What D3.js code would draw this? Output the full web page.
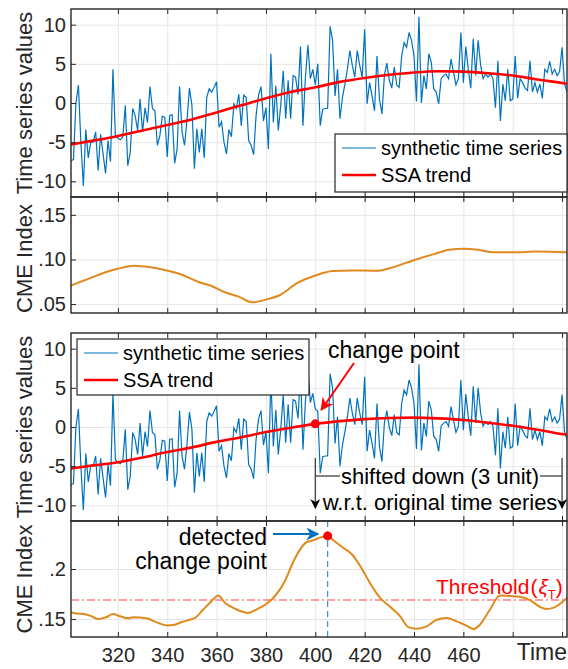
<!DOCTYPE html>
<html>
  <head>
    <meta charset="utf-8">
    <title>SSA trend and CME index</title>
    <script src="https://d3js.org/d3.v7.min.js"></script>
    <style>
      body { margin: 0; background: white; }
      svg { font-family: "Liberation Sans", Arial, Helvetica, sans-serif; }
      .grid line { stroke: #e6e6e6; stroke-width: 1; }
      .grid path, .ticks path, .labels path { display: none; }
      .ticks line { stroke: #262626; stroke-width: 1; }
      .labels text { font-size: 20px; fill: #262626; }
      .box { fill: none; stroke: #262626; stroke-width: 1.4; }
      .ts { fill: none; stroke: #0072BD; stroke-width: 1.2; }
      .trend { fill: none; stroke: #ff0000; stroke-width: 2.6; }
      .cme { fill: none; stroke: #e0891c; stroke-width: 2; }
    </style>
  </head>
  <body>
    <script>
      // synthetic time series, one value per time step from t0
      var t0 = 301;
      var tsValues = [
        -7.4, -7.2, 0, 2.3, -5, -10.6, -3.4, -7, -5, -5,
        -3.7, -8.6, -4, -6.5, -9, -4.8, -7.5, 4.3, -4.2, -4.5,
        -4.7, -4.3, -0.3, -8, -6.3, -0.7, -1.6, -3.5, 0.5, -3.7,
        -0.6, -2.5, 2.1, -0.7, -1, -5.4, -4.2, -1.7, -1.8, -6.9,
        -1.6, -1.5, -7.7, -5.9, 2.1, -3.7, -5.4, -2.2, 1.9, -0.3,
        -8.4, -3.3, -6.3, -3.3, -7, 0.7, 1.8, 1.4, 2, 2.7,
        -3.1, -2.4, -5, -6.5, -3.4, -4.3, -0.1, -0.7, 1.1, -2.9,
        1, 0.7, -4.8, -5.4, -6.6, -1.6, 1, 2.1, -2.3, -0.6,
        -5.9, 6.3, -2.5, 2.2, -3.5, -0.3, 4.1, -2, 2.9, -2,
        3.5, 3.3, 1.1, 7.2, -2.9, 3.3, 7.4, 3.1, 4.3, 2.3,
        5, -2.9, -0.8, -0.7, -0.7, 9.8, 8, 0.9, 4.3, -2,
        0.7, 2.4, 4.3, 6.7, 4.8, 3.3, 6.7, 4.8, 3.3, 9.4,
        -0.1, 2.6, 0.9, -1, 6, 0.5, -1.4, 3.5, 5.1, 2.9,
        1.9, 4.6, 2.3, 2, 6, 7.7, 7.1, 9, 8, 6,
        0.2, 11, 0, 3.5, 1.8, 6.3, 5.2, 1.8, 1.4, -0.1,
        3.1, 3.5, 3.7, 3.1, 5.6, 3.9, 2.3, 3.1, 9, 2.6,
        7.2, 4.3, 1.9, 8.2, 3.5, 8, 4.8, 3.1, 3.7, 3.3,
        3.7, 3.1, -0.6, 5.4, -2.3, 2.4, 0.3, 4.3, 0.3, 0.5,
        6, 0.6, 3.1, 2.6, 1.9, 1.6, 5.4, 1.4, 2.6, 1.4,
        2.4, 0.6, 4.3, 3.9, 5.3, 3.7, 4.3, 3.5, 4, 7.1,
        2.4, 1.4
      ];

      // SSA trends (original and shifted series)
      var trendT  = [301, 310, 320, 330, 340, 350, 360, 370, 380, 390, 400, 410, 420, 430, 440, 450, 460, 470, 480, 490, 500, 502];
      var trend1  = [-5.3, -4.8, -4.2, -3.5, -2.8, -2.1, -1.2, -0.3, 0.6, 1.4, 2.0, 2.7, 3.2, 3.6, 3.9, 4.05, 4.0, 3.8, 3.5, 3.0, 2.55, 2.45];
      var trend2  = [-5.3, -4.9, -4.5, -3.9, -3.2, -2.6, -1.9, -1.3, -0.65, -0.1, 0.4, 0.75, 1.0, 1.15, 1.2, 1.1, 0.9, 0.55, 0.15, -0.35, -0.9, -1.0];

      // CME index, original series
      var cme1T = [301, 309, 316, 320, 326.5, 331, 339.8, 345.7, 353, 357.4, 363.3, 369, 374.3, 381, 385.3, 392.6, 400, 407, 414.5, 425, 430.7, 439.6, 448.4, 454.2, 460, 466, 472, 480.7, 489.5, 502];
      var cme1V = [0.0708, 0.0794, 0.0865, 0.0895, 0.093, 0.092, 0.0877, 0.0832, 0.0745, 0.0708, 0.0633, 0.0584, 0.052, 0.0558, 0.0596, 0.0734, 0.082, 0.087, 0.0877, 0.0873, 0.0907, 0.0989, 0.1063, 0.1108, 0.112, 0.1108, 0.108, 0.108, 0.109, 0.108];

      // CME index, shifted series
      var cme2T = [301, 303.3, 306, 308.7, 312, 315.5, 318, 320.9, 324.2, 326.2, 329, 331.7, 335.7, 339.8, 342.5, 345.9, 349.2, 351.2, 354.6, 358, 360.7, 363.4, 366.8, 369.5, 372.8, 376.2, 380.3, 383.7, 387.7, 391, 393.6, 396.5, 399.2, 401.9, 405, 407.3, 411.4, 414.7, 418.1, 422.2, 426.2, 430.3, 434.4, 437.7, 441.1, 445.1, 449.2, 453.2, 457.3, 461.4, 464, 466.7, 470.8, 474.8, 478.9, 482.9, 487, 491, 493.8, 496.4, 502];
      var cme2V = [0.1568, 0.1554, 0.155, 0.1534, 0.150, 0.152, 0.155, 0.1527, 0.1507, 0.1517, 0.1514, 0.1507, 0.1466, 0.1436, 0.144, 0.147, 0.1493, 0.151, 0.1595, 0.168, 0.1736, 0.1662, 0.1611, 0.158, 0.156, 0.1595, 0.1652, 0.173, 0.188, 0.2068, 0.2186, 0.227, 0.2287, 0.2314, 0.2331, 0.2287, 0.221, 0.215, 0.2034, 0.1858, 0.1713, 0.1622, 0.1527, 0.1419, 0.1402, 0.1426, 0.1493, 0.151, 0.1476, 0.1432, 0.1399, 0.1443, 0.1595, 0.1736, 0.173, 0.1723, 0.1689, 0.1622, 0.1601, 0.1611, 0.171];

      var threshold = 0.169;
      var changeT = 400, detectT = 405, shiftUnits = 3;

      var tsTicks = [-10, -5, 0, 5, 10];
      var cme1Ticks = [0.05, 0.10, 0.15];
      var cme1Labels = ['.05', '.10', '.15'];
      var cme2Ticks = [0.15, 0.2];
      var cme2Labels = ['.15', '.2'];
      var xTicks = [320, 340, 360, 380, 400, 420, 440, 460, 480, 500];
      var xLabelTicks = [320, 340, 360, 380, 400, 420, 440, 460];

      var W = 568, H = 669, L = 71, R = 567;
      var svg = d3.select('body').append('svg').attr('width', W).attr('height', H);

      var defs = svg.append('defs');
      function marker(id, color, size) {
        defs.append('marker').attr('id', id).attr('viewBox', '0 0 10 10')
          .attr('refX', 9).attr('refY', 5).attr('markerWidth', size).attr('markerHeight', size)
          .attr('markerUnits', 'userSpaceOnUse').attr('orient', 'auto')
          .append('path').attr('d', 'M0,0 L10,5 L0,10 L3,5 Z').attr('fill', color);
      }
      marker('arRed', '#ff0000', 13);
      marker('arBlue', '#0072BD', 13);
      marker('arBlack', '#000', 10);

      var x = d3.scaleLinear().domain([301, 502]).range([L, R]);

      var tsData1 = tsValues.map(function(v, i){ return { t: t0 + i, v: v } });
      var tsData2 = tsValues.map(function(v, i){ return { t: t0 + i, v: (t0 + i > changeT) ? v - shiftUnits : v } });

      function panel(id, top, bottom, domain, ticks, labels) {
        var y = d3.scaleLinear().domain(domain).range([bottom, top]);
        var g = svg.append('g');
        defs.append('clipPath').attr('id', id).append('rect')
          .attr('x', L).attr('y', top).attr('width', R - L).attr('height', bottom - top);

        g.append('g').attr('class', 'grid').attr('transform', 'translate(0,' + bottom + ')')
          .call(d3.axisBottom(x).tickValues(xTicks).tickSize(-(bottom - top)).tickFormat(''));
        g.append('g').attr('class', 'grid').attr('transform', 'translate(' + L + ',0)')
          .call(d3.axisLeft(y).tickValues(ticks).tickSize(-(R - L)).tickFormat(''));

        var plot = g.append('g').attr('clip-path', 'url(#' + id + ')');
        var front = svg.append('g');
        front.append('g').attr('class', 'ticks').attr('transform', 'translate(0,' + bottom + ')')
          .call(d3.axisBottom(x).tickValues(xTicks).tickSize(-5).tickFormat(''));
        front.append('g').attr('class', 'ticks').attr('transform', 'translate(0,' + top + ')')
          .call(d3.axisTop(x).tickValues(xTicks).tickSize(-5).tickFormat(''));
        front.append('g').attr('class', 'ticks').attr('transform', 'translate(' + L + ',0)')
          .call(d3.axisLeft(y).tickValues(ticks).tickSize(-5).tickFormat(''));
        front.append('g').attr('class', 'labels').attr('transform', 'translate(' + L + ',0)')
          .call(d3.axisLeft(y).tickValues(ticks).tickSize(0).tickPadding(5)
            .tickFormat(function(d, i){ return labels ? labels[i] : String(d) }));
        front.append('rect').attr('class', 'box')
          .attr('x', L).attr('y', top).attr('width', R - L).attr('height', bottom - top);
        return { y: y, plot: plot, front: front, top: top, bottom: bottom };
      }

      function ylabel(text, top, bottom) {
        svg.append('text').attr('transform', 'translate(32,' + ((top + bottom) / 2) + ') rotate(-90)')
          .attr('text-anchor', 'middle').attr('font-size', 22).attr('fill', '#262626').text(text);
      }

      var lineTs = function(y){ return d3.line().x(function(d){ return x(d.t) }).y(function(d){ return y(d.v) }) };
      var lineXY = function(y, xs, ys, curve){
        return d3.line().curve(curve).x(function(d){ return x(xs[d]) }).y(function(d){ return y(ys[d]) })(d3.range(xs.length));
      };

      // panel 1
      var p1 = panel('c1', 9, 197, [-12, 12], tsTicks);
      p1.plot.append('path').datum(tsData1).attr('class', 'ts').attr('d', lineTs(p1.y));
      p1.plot.append('path').attr('class', 'trend').attr('d', lineXY(p1.y, trendT, trend1, d3.curveMonotoneX));
      ylabel('Time series values', 9, 197);

      // panel 2
      var p2 = panel('c2', 197, 313, [0.04, 0.17], cme1Ticks, cme1Labels);
      p2.plot.append('path').attr('class', 'cme').attr('d', lineXY(p2.y, cme1T, cme1V, d3.curveMonotoneX));
      ylabel('CME Index', 197, 320);

      // panel 3
      var p3 = panel('c3', 333, 521, [-12, 12], tsTicks);
      p3.plot.append('path').datum(tsData2).attr('class', 'ts').attr('d', lineTs(p3.y));
      p3.plot.append('path').attr('class', 'trend').attr('d', lineXY(p3.y, trendT, trend2, d3.curveMonotoneX));
      ylabel('Time series values', 333, 521);

      // panel 4
      var p4 = panel('c4', 521, 637, [0.132, 0.248], cme2Ticks, cme2Labels);
      p4.plot.append('line').attr('x1', L).attr('x2', R).attr('y1', p4.y(threshold)).attr('y2', p4.y(threshold))
        .attr('stroke', '#ff4040').attr('stroke-width', 1.2).attr('stroke-dasharray', '8,3,2,3');
      p4.plot.append('line').attr('x1', x(detectT)).attr('x2', x(detectT)).attr('y1', 521).attr('y2', 637)
        .attr('stroke', '#3d8fd0').attr('stroke-width', 1.2).attr('stroke-dasharray', '6,4');
      p4.plot.append('path').attr('class', 'cme').attr('d', lineXY(p4.y, cme2T, cme2V, d3.curveMonotoneX));
      ylabel('CME Index', 521, 637);

      // x axis labels
      svg.append('g').attr('class', 'labels').attr('transform', 'translate(0,637)')
        .call(d3.axisBottom(x).tickValues(xLabelTicks).tickSize(0).tickPadding(11));
      svg.append('text').attr('x', 567).attr('y', 660).attr('text-anchor', 'end')
        .attr('font-size', 23).attr('fill', '#262626').text('Time');

      // legends
      function legend(x0, y0, w, h) {
        var g = svg.append('g');
        g.append('rect').attr('x', x0).attr('y', y0).attr('width', w).attr('height', h)
          .attr('fill', 'white').attr('stroke', '#262626').attr('stroke-width', 1.2);
        var items = [['synthetic time series', 'ts'], ['SSA trend', 'trend']];
        items.forEach(function(it, i){
          var yy = y0 + 14 + i * 27;
          g.append('line').attr('class', it[1]).attr('x1', x0 + 7).attr('x2', x0 + 41).attr('y1', yy).attr('y2', yy);
          g.append('text').attr('x', x0 + 46).attr('y', yy).attr('dy', '0.35em')
            .attr('font-size', 20).attr('fill', '#000').text(it[0]);
        });
      }
      legend(335, 134, 232, 58);
      legend(77, 339, 232, 56);

      // change point annotation (panel 3)
      var cpY = p3.y(trend2[trendT.indexOf(changeT)]);
      svg.append('line').attr('x1', 354).attr('y1', 363).attr('x2', x(changeT) + 6).attr('y2', 410)
        .attr('stroke', '#ff0000').attr('stroke-width', 2).attr('marker-end', 'url(#arRed)');
      svg.append('circle').attr('cx', x(changeT)).attr('cy', cpY).attr('r', 4.5).attr('fill', '#ff0000');
      svg.append('text').attr('x', 328).attr('y', 350).attr('dy', '0.35em').attr('font-size', 23).text('change point');

      // shifted-down bracket
      var xa = x(changeT), xb = x(500);
      var br = svg.append('g').attr('stroke', '#333').attr('stroke-width', 1.2);
      br.append('line').attr('x1', xa).attr('x2', xa).attr('y1', 458).attr('y2', 508).attr('marker-end', 'url(#arBlack)');
      br.append('line').attr('x1', xb).attr('x2', xb).attr('y1', 458).attr('y2', 508).attr('marker-end', 'url(#arBlack)');
      br.append('line').attr('x1', xa).attr('x2', 340).attr('y1', 476).attr('y2', 476);
      br.append('line').attr('x1', 540).attr('x2', xb).attr('y1', 476).attr('y2', 476);
      svg.append('text').attr('x', 440).attr('y', 476).attr('dy', '0.35em').attr('text-anchor', 'middle')
        .attr('font-size', 22).text('shifted down (3 unit)');
      svg.append('text').attr('x', 440).attr('y', 502).attr('dy', '0.35em').attr('text-anchor', 'middle')
        .attr('font-size', 22).text('w.r.t. original time series');

      // detected change point (panel 4)
      svg.append('circle').attr('cx', x(detectT)).attr('cy', p4.y(cme2V[cme2T.indexOf(detectT)])).attr('r', 4.5).attr('fill', '#ff0000');
      svg.append('line').attr('x1', 273).attr('x2', 318).attr('y1', 534).attr('y2', 534)
        .attr('stroke', '#0072BD').attr('stroke-width', 2).attr('marker-end', 'url(#arBlue)');
      svg.append('text').attr('x', 267).attr('y', 537).attr('dy', '0.35em').attr('text-anchor', 'end')
        .attr('font-size', 23).text('detected');
      svg.append('text').attr('x', 267).attr('y', 561).attr('dy', '0.35em').attr('text-anchor', 'end')
        .attr('font-size', 23).text('change point');
      var th = svg.append('text').attr('x', 436).attr('y', 587).attr('dy', '0.35em')
        .attr('font-size', 21).attr('fill', '#ff0000');
      th.append('tspan').text('Threshold');
      th.append('tspan').attr('dx', 1).text('(');
      th.append('tspan').attr('dx', 1).attr('font-style', 'italic').text('ξ');
      th.append('tspan').attr('font-size', 13).attr('dy', '5').text('T');
      th.append('tspan').attr('dy', '-5').text(')');
    </script>
  </body>
</html>
